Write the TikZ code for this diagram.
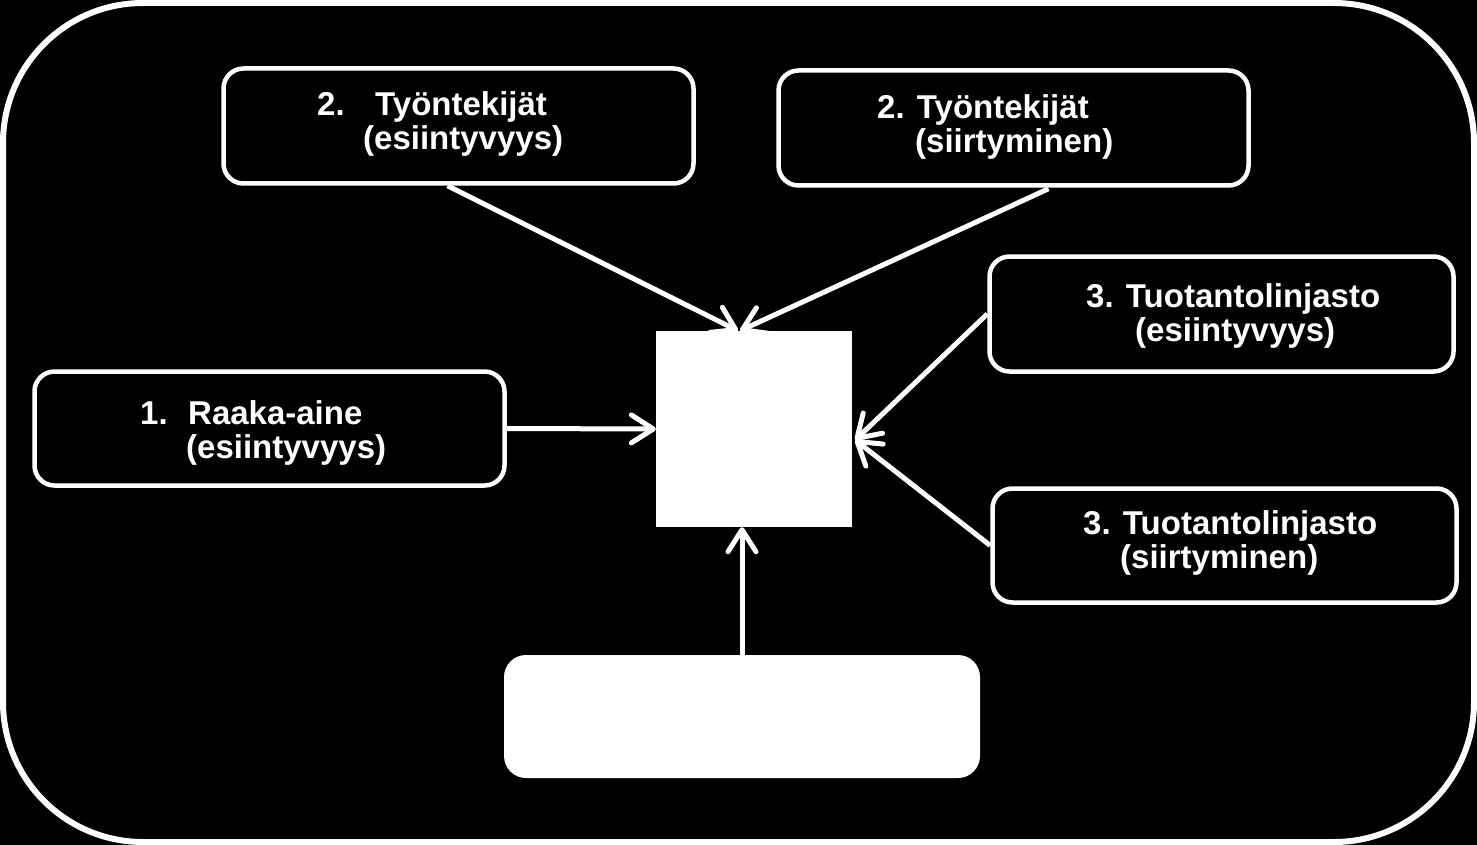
\documentclass[tikz,border=0pt]{standalone}
\usepackage{fontspec}
\setmainfont{Liberation Sans}
\usetikzlibrary{arrows.meta,calc}

\begin{document}
\begin{tikzpicture}[x=1pt,y=-1pt,
    box/.style={draw=white, line width=4.5pt, rounded corners=20pt, fill=black, inner sep=0pt},
    lbl/.style={text=white, font=\fontsize{33}{34}\selectfont\bfseries, align=left, anchor=base west, inner sep=0pt},
    flow/.style={draw=white, line width=5pt, -{Straight Barb[length=22pt,width=28pt,round]}}]
    % background and outer frame
    \fill[black] (0,0) rectangle (1477,845);
    \useasboundingbox (0,0) rectangle (1477,845);
    \draw[white, line width=6pt, rounded corners=140pt] (3,3) rectangle (1474,842);

    % factor boxes
    \node[box, minimum width=470pt, minimum height=115pt] (tyoEsi) at (458.5,126) {};
    \node[box, minimum width=470pt, minimum height=115pt] (tyoSiir) at (1013.5,128) {};
    \node[box, minimum width=464pt, minimum height=115pt] (linjaEsi) at (1221.5,314) {};
    \node[box, minimum width=470pt, minimum height=114pt] (raaka) at (269.5,428.5) {};
    \node[box, minimum width=464pt, minimum height=114pt] (linjaSiir) at (1224.5,545.5) {};

    % white blocks
    \node[fill=white, inner sep=0pt, minimum size=196pt] (keski) at (754,429) {};
    \node[fill=white, inner sep=0pt, rounded corners=22pt, minimum width=476pt, minimum height=123pt] (pohja) at (742,716.5) {};

    % labels (anchored on the second line)
    \node[lbl] (tyoEsiT) at (317,150) {\makebox[58pt][l]{2.}Työntekijät\\\hspace*{46pt}(esiintyvyys)};
    \node[lbl] (tyoSiirT) at (877,153) {2. Työntekijät\\\hspace*{38pt}(siirtyminen)};
    \node[lbl] (linjaEsiT) at (1086,341) {3. Tuotantolinjasto\\\hspace*{49pt}(esiintyvyys)};
    \node[lbl] (raakaT) at (140,458) {\makebox[48pt][l]{1.}Raaka-aine\\\hspace*{46pt}(esiintyvyys)};
    \node[lbl] (linjaSiirT) at (1083,568) {3. Tuotantolinjasto\\\hspace*{37pt}(siirtyminen)};

    % arrows
    \draw[flow] ([xshift=-11pt]tyoEsi.south) -- ($(keski.north)+(-16,0)$);
    \draw[flow] ($(tyoSiir.south)+(35,1)$) -- ($(keski.north)+(-14,0)$);
    \draw[flow] (linjaEsi.west) -- ($(keski.east)+(3,11)$);
    \draw[flow] (linjaSiir.west) -- ($(keski.east)+(3,11)$);
    \draw[flow] (raaka.east) -- (keski.west);
    \draw[flow] (pohja.north) -- (pohja.north |- keski.south);
\end{tikzpicture}
\end{document}
